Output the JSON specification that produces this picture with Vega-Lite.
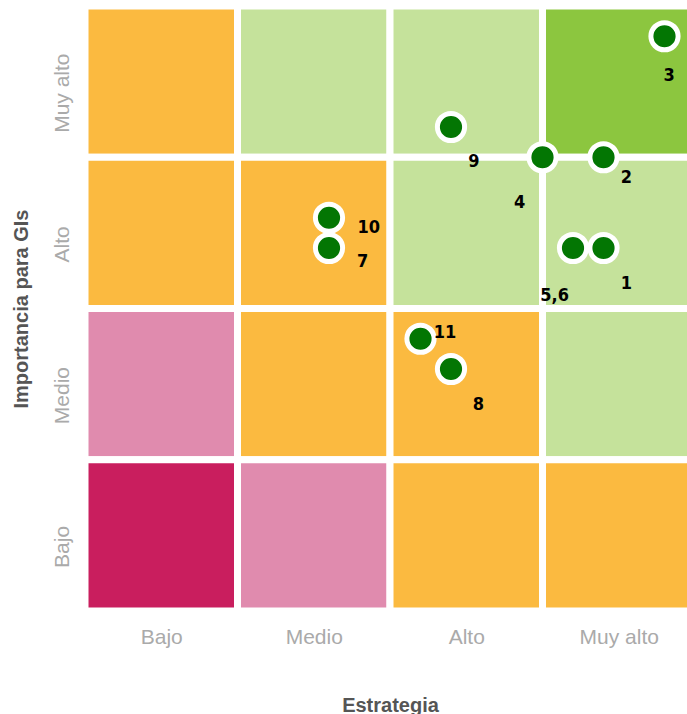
{
  "$schema": "https://vega.github.io/schema/vega-lite/v6.json",
  "autosize": "none",
  "width": 610,
  "height": 605,
  "padding": {"left": 85, "top": 6, "right": 0, "bottom": 103},
  "background": "white",
  "config": {"view": {"stroke": null}},
  "datasets": {
    "cells": [
      {"x0": 0, "x1": 1, "y0": 3, "y1": 4, "zone": "naranja"},
      {"x0": 1, "x1": 2, "y0": 3, "y1": 4, "zone": "verde claro"},
      {"x0": 2, "x1": 3, "y0": 3, "y1": 4, "zone": "verde claro"},
      {"x0": 3, "x1": 4, "y0": 3, "y1": 4, "zone": "verde"},
      {"x0": 0, "x1": 1, "y0": 2, "y1": 3, "zone": "naranja"},
      {"x0": 1, "x1": 2, "y0": 2, "y1": 3, "zone": "naranja"},
      {"x0": 2, "x1": 3, "y0": 2, "y1": 3, "zone": "verde claro"},
      {"x0": 3, "x1": 4, "y0": 2, "y1": 3, "zone": "verde claro"},
      {"x0": 0, "x1": 1, "y0": 1, "y1": 2, "zone": "rosa"},
      {"x0": 1, "x1": 2, "y0": 1, "y1": 2, "zone": "naranja"},
      {"x0": 2, "x1": 3, "y0": 1, "y1": 2, "zone": "naranja"},
      {"x0": 3, "x1": 4, "y0": 1, "y1": 2, "zone": "verde claro"},
      {"x0": 0, "x1": 1, "y0": 0, "y1": 1, "zone": "rojo"},
      {"x0": 1, "x1": 2, "y0": 0, "y1": 1, "zone": "rosa"},
      {"x0": 2, "x1": 3, "y0": 0, "y1": 1, "zone": "naranja"},
      {"x0": 3, "x1": 4, "y0": 0, "y1": 1, "zone": "naranja"}
    ],
    "points": [
      {"id": "1", "x": 3.4, "y": 2.4, "lx": 3.55, "ly": 2.16},
      {"id": "2", "x": 3.4, "y": 3.0, "lx": 3.55, "ly": 2.86},
      {"id": "3", "x": 3.8, "y": 3.8, "lx": 3.83, "ly": 3.54},
      {"id": "4", "x": 3.0, "y": 3.0, "lx": 2.85, "ly": 2.7},
      {"id": "5,6", "x": 3.2, "y": 2.4, "lx": 3.08, "ly": 2.08},
      {"id": "7", "x": 1.6, "y": 2.4, "lx": 1.82, "ly": 2.31},
      {"id": "8", "x": 2.4, "y": 1.6, "lx": 2.58, "ly": 1.36},
      {"id": "9", "x": 2.4, "y": 3.2, "lx": 2.55, "ly": 2.97},
      {"id": "10", "x": 1.6, "y": 2.6, "lx": 1.86, "ly": 2.53},
      {"id": "11", "x": 2.2, "y": 1.8, "lx": 2.36, "ly": 1.84}
    ]
  },
  "layer": [
    {
      "data": {"name": "cells"},
      "mark": {"type": "rect", "stroke": "white", "strokeWidth": 7},
      "encoding": {
        "x": {
          "field": "x0", "type": "quantitative",
          "scale": {"domain": [0, 4], "nice": false, "zero": false},
          "axis": {
            "values": [0.5, 1.5, 2.5, 3.5],
            "labelExpr": "datum.value == 0.5 ? 'Bajo' : datum.value == 1.5 ? 'Medio' : datum.value == 2.5 ? 'Alto' : 'Muy alto'",
            "title": "Estrategia",
            "domain": false, "ticks": false, "grid": false,
            "labelFont": "Liberation Sans", "labelFontSize": 21, "labelColor": "#AAAAAA",
            "labelPadding": 15,
            "titleFont": "Liberation Sans", "titleFontSize": 20, "titleFontWeight": "bold", "titleColor": "#555555",
            "titlePadding": 48
          }
        },
        "x2": {"field": "x1"},
        "y": {
          "field": "y0", "type": "quantitative",
          "scale": {"domain": [0, 4], "nice": false, "zero": false},
          "axis": {
            "values": [0.5, 1.5, 2.5, 3.5],
            "labelExpr": "datum.value == 0.5 ? 'Bajo' : datum.value == 1.5 ? 'Medio' : datum.value == 2.5 ? 'Alto' : 'Muy alto'",
            "title": "Importancia para GIs",
            "domain": false, "ticks": false, "grid": false,
            "labelAngle": -90, "labelAlign": "center", "labelBaseline": "bottom",
            "labelFont": "Liberation Sans", "labelFontSize": 21, "labelColor": "#AAAAAA",
            "labelPadding": 13, "labelOffset": 11,
            "titleFont": "Liberation Sans", "titleFontSize": 20, "titleFontWeight": "bold", "titleColor": "#555555",
            "titlePadding": 20
          }
        },
        "y2": {"field": "y1"},
        "color": {
          "field": "zone", "type": "nominal", "legend": null,
          "scale": {
            "domain": ["rojo", "rosa", "naranja", "verde claro", "verde"],
            "range": ["#C91E5E", "#E08BAE", "#FBBA40", "#C5E29B", "#8CC63F"]
          }
        }
      }
    },
    {
      "data": {"name": "points"},
      "mark": {"type": "point", "shape": "circle", "filled": true, "size": 740, "fill": "#037603", "stroke": "white", "strokeWidth": 5, "opacity": 1, "strokeOpacity": 1},
      "encoding": {
        "x": {"field": "x", "type": "quantitative"},
        "y": {"field": "y", "type": "quantitative"}
      }
    },
    {
      "data": {"name": "points"},
      "mark": {"type": "text", "font": "DejaVu Sans Condensed", "fontWeight": "bold", "fontSize": 18, "color": "black", "align": "center", "baseline": "middle"},
      "encoding": {
        "x": {"field": "lx", "type": "quantitative"},
        "y": {"field": "ly", "type": "quantitative"},
        "text": {"field": "id"}
      }
    }
  ]
}
